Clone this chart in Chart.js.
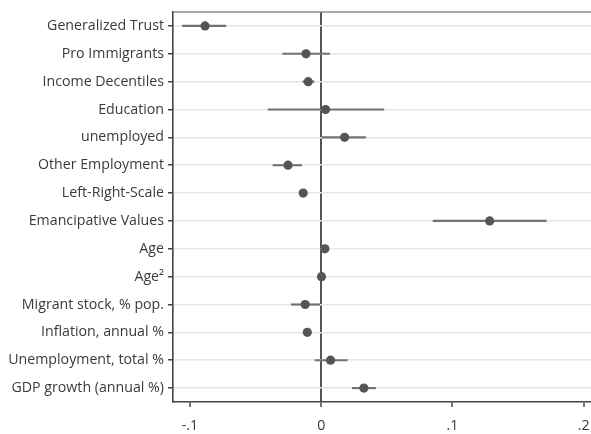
<!DOCTYPE html>
<html lang="en">
<head>
    <meta charset="UTF-8">
    <title>Coefficient plot</title>
    <script src="https://cdn.jsdelivr.net/npm/chart.js"></script>
    <style>
        html, body { margin: 0; padding: 0; background: #fff; overflow: hidden; }
        #wrap { width: 591px; height: 434px; }
    </style>
</head>
<body>
    <div id="wrap"><canvas id="coefChart" width="591" height="434"></canvas></div>

    <script>
        // predictors, top to bottom
        const variables = [
            'Generalized Trust', 'Pro Immigrants', 'Income Decentiles', 'Education',
            'unemployed', 'Other Employment', 'Left-Right-Scale', 'Emancipative Values',
            'Age', 'Age\u00B2', 'Migrant stock, % pop.', 'Inflation, annual %',
            'Unemployment, total %', 'GDP growth (annual %)'
        ];
        // point estimates
        const coefs = [
            -0.0885, -0.0116, -0.0099, 0.0033,
            0.0178, -0.0253, -0.0137, 0.1283,
            0.0028, 0.0002, -0.0122, -0.0106,
            0.0071, 0.0325
        ];
        // 95% confidence bounds
        const ciLow = [
            -0.1057, -0.0293, -0.0140, -0.0405,
            0.0008, -0.0367, -0.0160, 0.0852,
            0.0018, -0.0004, -0.0228, -0.0125,
            -0.0048, 0.0236
        ];
        const ciHigh = [
            -0.0727, 0.0064, -0.0055, 0.0477,
            0.0338, -0.0149, -0.0112, 0.1714,
            0.0040, 0.0008, -0.0012, -0.0088,
            0.0199, 0.0414
        ];
        const xTickValues = [-0.1, 0, 0.1, 0.2];
        const xTickLabels = ['-.1', '0', '.1', '.2'];

        const font = { family: '"Open Sans", "Noto Sans", sans-serif', size: 14.2 };
        const isZero = c => c.tick && Math.abs(c.tick.value) < 1e-9;

        // thin grey line along the top of the plot area
        const topFrame = {
            id: 'topFrame',
            afterDraw(chart) {
                const { ctx, chartArea } = chart;
                ctx.save();
                ctx.strokeStyle = '#8c8c8c';
                ctx.lineWidth = 1.4;
                ctx.beginPath();
                ctx.moveTo(chartArea.left, chartArea.top);
                ctx.lineTo(chartArea.right, chartArea.top);
                ctx.stroke();
                ctx.restore();
            }
        };

        new Chart(document.getElementById('coefChart'), {
            type: 'bar',
            data: {
                labels: variables,
                datasets: [
                    {
                        // confidence intervals as floating bars
                        type: 'bar',
                        data: ciLow.map((lo, i) => [lo, ciHigh[i]]),
                        backgroundColor: '#727272',
                        barThickness: 1.5,
                        order: 2
                    },
                    {
                        type: 'scatter',
                        data: coefs.map((c, i) => ({ x: c, y: variables[i] })),
                        backgroundColor: '#555555',
                        borderWidth: 0,
                        pointRadius: 4.6,
                        order: 1
                    }
                ]
            },
            options: {
                indexAxis: 'y',
                responsive: false,
                animation: false,
                layout: {
                    autoPadding: false,
                    // plot runs off the right edge, no right-hand frame
                    padding: { top: 12, right: -3, left: 0, bottom: 0 }
                },
                plugins: {
                    legend: { display: false },
                    tooltip: { enabled: false }
                },
                scales: {
                    x: {
                        type: 'linear',
                        min: -0.1129,
                        max: 0.2055,
                        afterBuildTicks: scale => {
                            scale.ticks = xTickValues.map(v => ({ value: v }));
                        },
                        afterFit: scale => {
                            scale.height = 32;
                            scale.paddingLeft = 0;
                            scale.paddingRight = 0;
                        },
                        ticks: {
                            font: font,
                            color: '#3a3a3a',
                            padding: 10,
                            callback: (v) => {
                                const k = xTickValues.findIndex(t => Math.abs(t - v) < 1e-9);
                                return k >= 0 ? xTickLabels[k] : '';
                            }
                        },
                        grid: {
                            // only the zero reference line is drawn across the plot
                            color: '#555555',
                            lineWidth: c => isZero(c) ? 2 : 0,
                            tickColor: '#444444',
                            tickWidth: 1.5,
                            tickLength: 5
                        },
                        border: { color: '#444444', width: 1.6 }
                    },
                    y: {
                        type: 'category',
                        offset: true,
                        afterFit: scale => {
                            scale.width = 173;
                            scale.paddingTop = 0;
                            scale.paddingBottom = 0;
                        },
                        ticks: {
                            font: font,
                            color: '#3a3a3a',
                            padding: 4,
                            autoSkip: false
                        },
                        grid: {
                            offset: false,
                            color: '#e6e6e6',
                            lineWidth: 1.5,
                            tickColor: '#444444',
                            tickWidth: 1.5,
                            tickLength: 5
                        },
                        border: { color: '#444444', width: 1.6 }
                    }
                }
            },
            plugins: [topFrame]
        });
    </script>
</body>
</html>
